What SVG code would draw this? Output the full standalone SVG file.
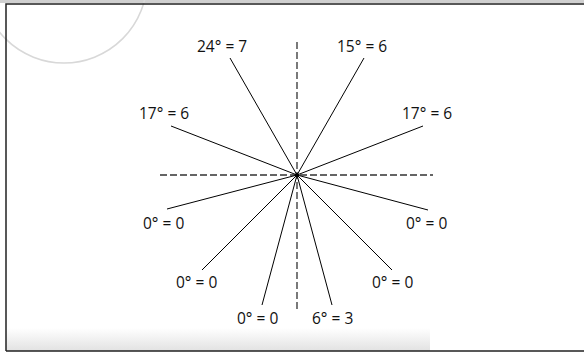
<svg xmlns="http://www.w3.org/2000/svg" width="584" height="354" viewBox="0 0 584 354">
<style>
.ray{stroke:#000;stroke-width:1;fill:none}
.axis{stroke:#333;stroke-width:1.3;stroke-dasharray:7,3;fill:none}
.lbl{font-family:"Open Sans","Noto Sans",sans-serif;font-size:15.5px;fill:#111}
</style>
<defs>
<linearGradient id="fade" x1="0" y1="0" x2="0" y2="1">
<stop offset="0" stop-color="#fff"/>
<stop offset="1" stop-color="#e2e2e2"/>
</linearGradient>
</defs>
<rect width="584" height="354" fill="#fff"/>
<rect x="0" y="0" width="584" height="3" fill="#d0d0d0"/>
<rect x="6" y="328" width="424" height="23" fill="url(#fade)"/>
<circle cx="64" cy="-20" r="83" fill="none" stroke="#d8d8d8" stroke-width="1.6"/>
<path d="M6 351 V4 H584 M6 351 H584" fill="none" stroke="#222" stroke-width="1.5"/>
<g id="axes">
<line class="axis" x1="160" y1="175" x2="433" y2="175"/>
<line class="axis" x1="297" y1="42" x2="297" y2="309"/>
</g>
<g id="connectors">
<line class="ray" x1="297" y1="175" x2="230" y2="58"/>
<line class="ray" x1="297" y1="175" x2="364" y2="58"/>
<line class="ray" x1="297" y1="175" x2="171" y2="126"/>
<line class="ray" x1="297" y1="175" x2="423" y2="126"/>
<line class="ray" x1="297" y1="175" x2="167" y2="209"/>
<line class="ray" x1="297" y1="175" x2="428" y2="210"/>
<line class="ray" x1="297" y1="175" x2="202" y2="270"/>
<line class="ray" x1="297" y1="175" x2="392" y2="270"/>
<line class="ray" x1="297" y1="175" x2="262" y2="305"/>
<line class="ray" x1="297" y1="175" x2="332" y2="305"/>
<circle cx="297" cy="175" r="2" fill="#000"/>
</g>
<g id="n1"><text class="lbl" x="197" y="52">24° = 7</text></g>
<g id="n2"><text class="lbl" x="337" y="52">15° = 6</text></g>
<g id="n3"><text class="lbl" x="139" y="119">17° = 6</text></g>
<g id="n4"><text class="lbl" x="402" y="119">17° = 6</text></g>
<g id="n5"><text class="lbl" x="143" y="229">0° = 0</text></g>
<g id="n6"><text class="lbl" x="406" y="229">0° = 0</text></g>
<g id="n7"><text class="lbl" x="176" y="288">0° = 0</text></g>
<g id="n8"><text class="lbl" x="372" y="288">0° = 0</text></g>
<g id="n9"><text class="lbl" x="237" y="324">0° = 0</text></g>
<g id="n10"><text class="lbl" x="312" y="324">6° = 3</text></g>
</svg>
